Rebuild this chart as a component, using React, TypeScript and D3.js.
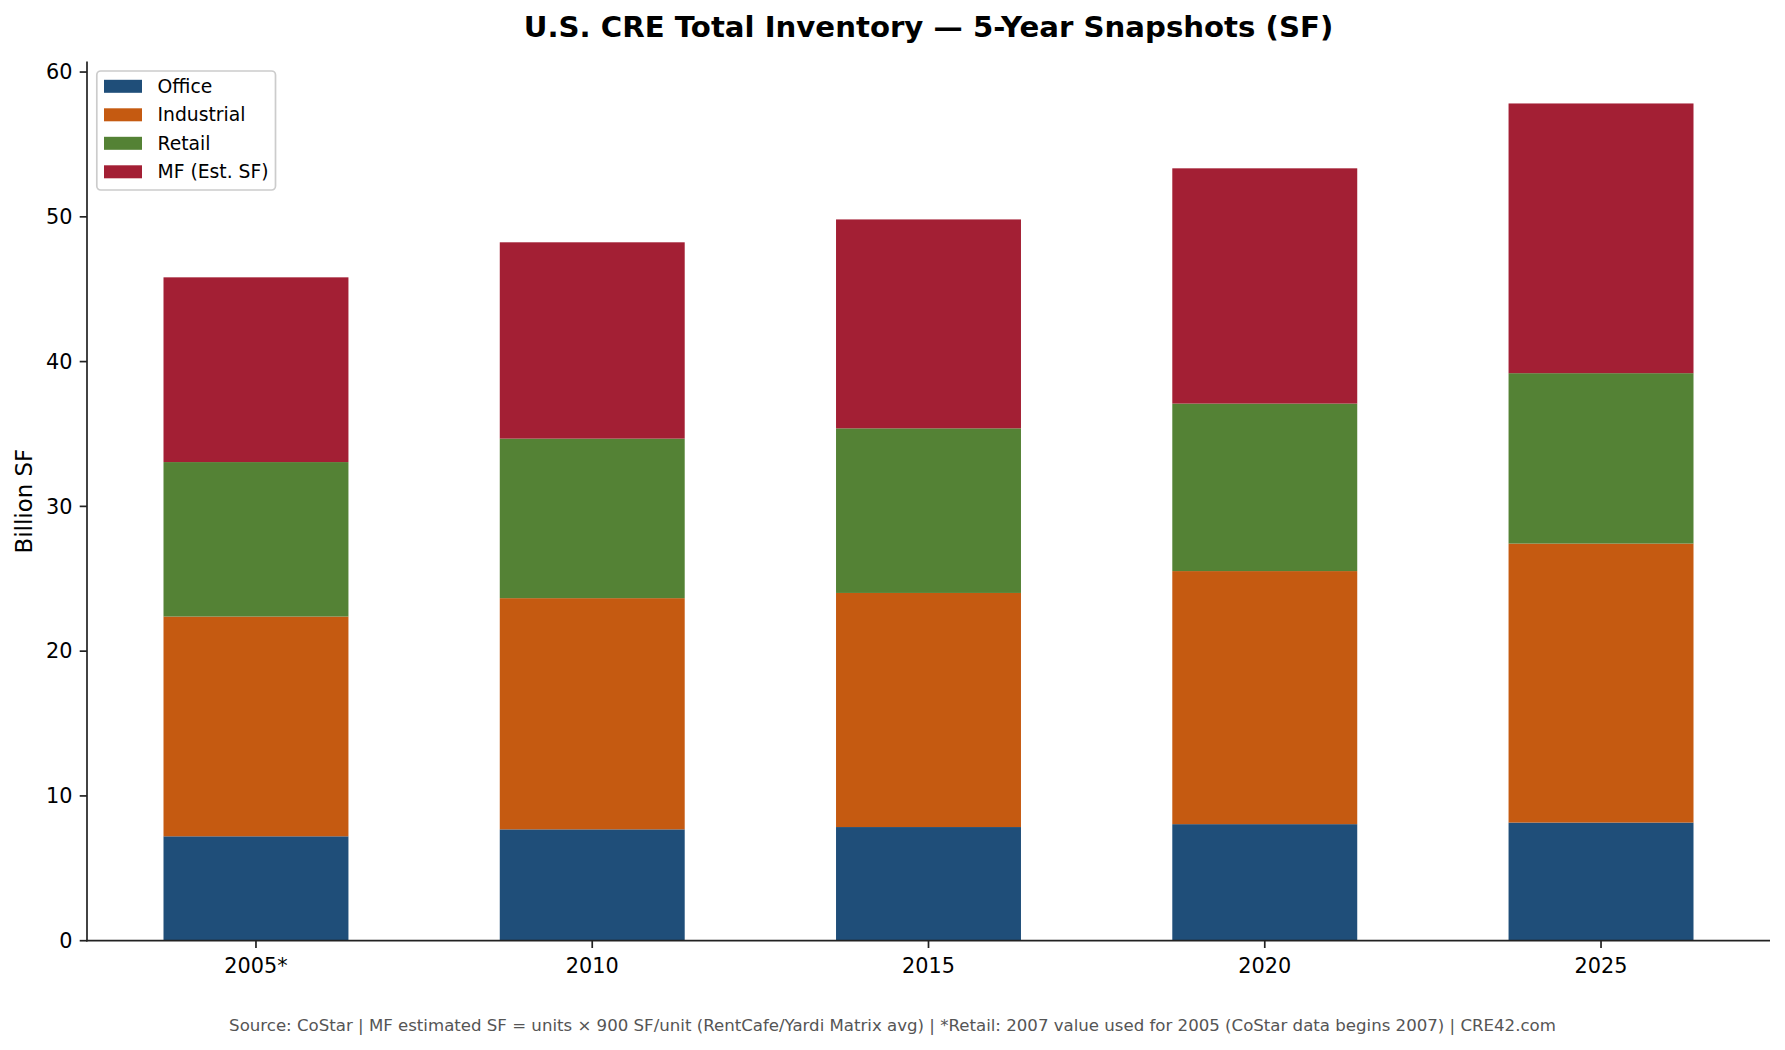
import React, { useEffect, useRef } from 'react';
import * as d3 from 'd3';

// Billion SF
const years = ['2005*', '2010', '2015', '2020', '2025'];
const seriesNames = ['Office', 'Industrial', 'Retail', 'MF (Est. SF)'];
const seriesColors = ['#1f4e79', '#c55a11', '#548235', '#a31f34'];
const office = [7.21, 7.69, 7.85, 8.05, 8.16];
const industrial = [15.18, 15.97, 16.17, 17.48, 19.27];
const retail = [10.67, 11.02, 11.37, 11.57, 11.77];
const multifamily = [12.76, 13.56, 14.43, 16.25, 18.63];
const yTicks = [0, 10, 20, 30, 40, 50, 60];

const title = 'U.S. CRE Total Inventory \u2014 5-Year Snapshots (SF)';
const yLabel = 'Billion SF';
const footer =
  'Source: CoStar | MF estimated SF = units \u00d7 900 SF/unit (RentCafe/Yardi Matrix avg) | *Retail: 2007 value used for 2005 (CoStar data begins 2007) | CRE42.com';

const W = 1785;
const H = 1050;
const FONT = '"DejaVu Sans", Verdana, sans-serif';

const App: React.FC = () => {
  const svgRef = useRef<SVGSVGElement>(null);

  useEffect(() => {
    document.body.style.margin = '0';
    if (!svgRef.current) return;

    const svg = d3.select(svgRef.current);
    svg.selectAll('*').remove();

    const left = 87;
    const right = 1770;
    const top = 61.6;
    const bottom = 940.7;

    const rows = years.map((y, i) => ({
      year: y,
      Office: office[i],
      Industrial: industrial[i],
      Retail: retail[i],
      'MF (Est. SF)': multifamily[i],
    }));

    const stacked = d3.stack<any>().keys(seriesNames)(rows);
    const maxTotal = d3.max(stacked[stacked.length - 1], d => d[1]) as number;

    const barWidth = 0.55;
    const xMargin = (years.length - 1 + barWidth) * 0.05;
    const x = d3.scaleLinear()
      .domain([-barWidth / 2 - xMargin, years.length - 1 + barWidth / 2 + xMargin])
      .range([left, right]);
    const y = d3.scaleLinear().domain([0, maxTotal * 1.05]).range([bottom, top]);

    // Bars
    stacked.forEach((layer, si) => {
      svg.append('g')
        .attr('fill', seriesColors[si])
        .selectAll('rect')
        .data(layer)
        .join('rect')
        .attr('x', (_, i) => x(i - barWidth / 2))
        .attr('width', x(barWidth) - x(0))
        .attr('y', d => y(d[1]))
        .attr('height', d => y(d[0]) - y(d[1]));
    });

    const tickLen = 7.3;
    const axisColor = '#222';

    // Y axis
    const yAxis = svg.append('g');
    yAxis.append('line')
      .attr('x1', left).attr('x2', left)
      .attr('y1', top).attr('y2', bottom + 0.8)
      .attr('stroke', axisColor).attr('stroke-width', 1.7);
    const yt = yAxis.selectAll('.yt').data(yTicks).join('g')
      .attr('transform', d => `translate(0,${y(d)})`);
    yt.append('line')
      .attr('x1', left - tickLen).attr('x2', left)
      .attr('stroke', axisColor).attr('stroke-width', 1.7);
    yt.append('text')
      .attr('x', left - tickLen - 7.3)
      .attr('dy', '0.35em')
      .attr('text-anchor', 'end')
      .attr('font-size', 20.8)
      .attr('font-family', FONT)
      .attr('fill', '#000')
      .text(d => d);

    // X axis
    const xAxis = svg.append('g');
    xAxis.append('line')
      .attr('x1', left - 0.8).attr('x2', right)
      .attr('y1', bottom).attr('y2', bottom)
      .attr('stroke', axisColor).attr('stroke-width', 1.7);
    const xt = xAxis.selectAll('.xt').data(years).join('g')
      .attr('transform', (_, i) => `translate(${x(i)},0)`);
    xt.append('line')
      .attr('y1', bottom).attr('y2', bottom + tickLen)
      .attr('stroke', axisColor).attr('stroke-width', 1.7);
    xt.append('text')
      .attr('y', bottom + tickLen + 9)
      .attr('dy', '0.76em')
      .attr('text-anchor', 'middle')
      .attr('font-size', 20.8)
      .attr('font-family', FONT)
      .attr('fill', '#000')
      .text(d => d);

    // Y label
    svg.append('text')
      .attr('transform', `translate(24,${(top + bottom) / 2}) rotate(-90)`)
      .attr('dy', '0.35em')
      .attr('text-anchor', 'middle')
      .attr('font-size', 22.9)
      .attr('font-family', FONT)
      .attr('fill', '#000')
      .text(yLabel);

    // Title
    svg.append('text')
      .attr('x', (left + right) / 2)
      .attr('y', 37)
      .attr('text-anchor', 'middle')
      .attr('font-size', 29.2)
      .attr('font-weight', 'bold')
      .attr('font-family', FONT)
      .attr('fill', '#000')
      .text(title);

    // Legend
    const lg = svg.append('g');
    lg.append('rect')
      .attr('x', 96.8).attr('y', 71)
      .attr('width', 178.7).attr('height', 119)
      .attr('rx', 4)
      .attr('fill', 'rgba(255,255,255,0.8)')
      .attr('stroke', '#cccccc')
      .attr('stroke-width', 1.7);
    const items = lg.selectAll('.li').data(seriesNames).join('g')
      .attr('transform', (_, i) => `translate(0,${86.3 + i * 28.5})`);
    items.append('rect')
      .attr('x', 104).attr('y', -6.5)
      .attr('width', 38).attr('height', 13)
      .attr('fill', (_, i) => seriesColors[i]);
    items.append('text')
      .attr('x', 157.5)
      .attr('dy', '0.35em')
      .attr('font-size', 18.75)
      .attr('font-family', FONT)
      .attr('fill', '#000')
      .text(d => d);

    // Footer
    svg.append('text')
      .attr('x', W / 2)
      .attr('y', 1025)
      .attr('dy', '0.35em')
      .attr('text-anchor', 'middle')
      .attr('font-size', 16.6)
      .attr('font-family', FONT)
      .attr('fill', '#555555')
      .text(footer);
  }, []);

  return (
    <svg ref={svgRef} width={W} height={H} style={{ display: 'block', background: '#fff' }} />
  );
};

export default App;
